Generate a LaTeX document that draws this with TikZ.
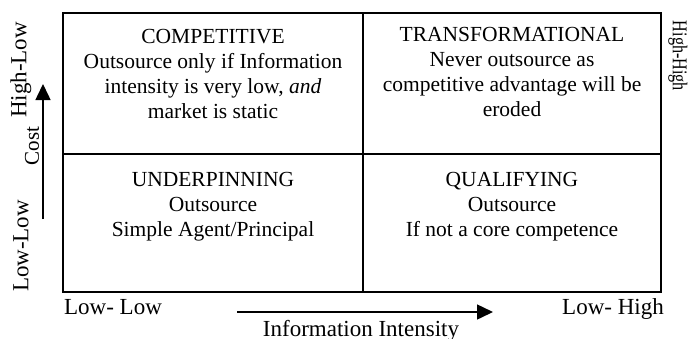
\documentclass[tikz,border=0pt]{standalone}
\usepackage{fontspec}
\setmainfont{Liberation Serif}
\usetikzlibrary{arrows.meta}
\begin{document}
\begin{tikzpicture}[x=1pt,y=-1pt,
  gridline/.style={line width=1.5pt},
  qtext/.style={font=\fontsize{21.5}{25}\selectfont, align=center, inner sep=0pt, anchor=north},
  axlabel/.style={font=\fontsize{23}{27}\selectfont, inner sep=0pt},
  axarrow/.style={line width=1.5pt, -{Triangle[length=16pt,width=15pt]}}]
\useasboundingbox (0,0) rectangle (690,338);
% grid
\draw[gridline] (63,13) rectangle (661,292);
\draw[gridline] (363,13) -- (363,292);
\draw[gridline] (63,154) -- (661,154);
% quadrant texts
\node[qtext] (competitive) at (213,29) {COMPETITIVE\\Outsource only if Information\\intensity is very low, \textit{and}\\market is static};
\node[qtext] (transformational) at (512,27) {TRANSFORMATIONAL\\Never outsource as\\competitive advantage will be\\eroded};
\node[qtext] (underpinning) at (213,172) {UNDERPINNING\\Outsource\\Simple Agent/Principal};
\node[qtext] (qualifying) at (512,172) {QUALIFYING\\Outsource\\If not a core competence};
% vertical axis
\node[axlabel, rotate=90] (highlow) at (21,70) {High-Low};
\node[axlabel, rotate=90, font=\fontsize{21}{25}\selectfont] (cost) at (32,146) {Cost};
\node[axlabel, rotate=90] (lowlow) at (21,246) {Low-Low};
\node[axlabel, rotate=-90, xscale=0.77, font=\fontsize{21}{25}\selectfont] (highhigh) at (678,56) {High-High};
\coordinate (costtail) at (43,219);
\coordinate (costhead) at (43,84);
\draw[axarrow] (costtail) -- (costhead);
% horizontal axis
\node[axlabel, anchor=base] (lowlowx) at (113,314) {Low- Low};
\node[axlabel, anchor=base] (lowhigh) at (613,314) {Low- High};
\node[axlabel, anchor=base] (info) at (361,336) {Information Intensity};
\coordinate (infotail) at (237,312);
\coordinate (infohead) at (493,312);
\draw[axarrow] (infotail) -- (infohead);
\end{tikzpicture}
\end{document}
